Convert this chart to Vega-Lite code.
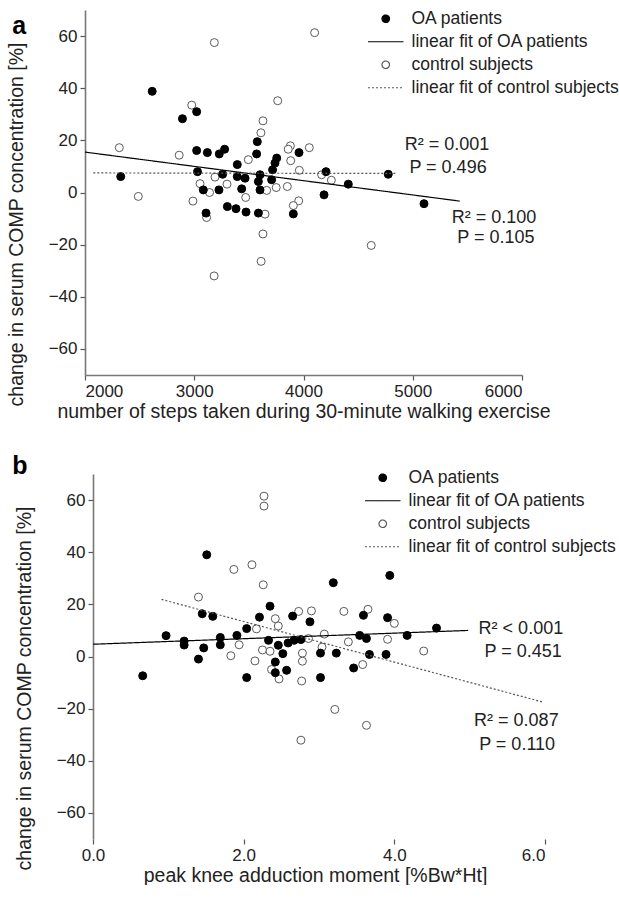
{
  "$schema": "https://vega.github.io/schema/vega-lite/v6.json",
  "background": "white",
  "padding": {"left": 6, "top": 10, "right": 0, "bottom": 0},
  "columns": 1,
  "align": "none",
  "spacing": 33,
  "resolve": {
    "scale": {"fill": "independent", "stroke": "independent", "shape": "independent", "strokeDash": "independent"},
    "legend": {"fill": "independent", "stroke": "independent", "shape": "independent", "strokeDash": "independent"}
  },
  "config": {
    "font": "Liberation Sans",
    "view": {"stroke": null},
    "axis": {
      "grid": false,
      "domainColor": "#777",
      "domainWidth": 1.6,
      "tickColor": "#555",
      "tickSize": 5,
      "tickWidth": 1.2,
      "labelFont": "Liberation Sans",
      "labelFontSize": 17,
      "labelColor": "#222",
      "labelPadding": 3,
      "titleFont": "Liberation Sans",
      "titleFontSize": 19.5,
      "titleFontWeight": "normal",
      "titleColor": "#222"
    },
    "legend": {
      "labelFont": "Liberation Sans",
      "labelFontSize": 17.5,
      "labelColor": "#222",
      "labelLimit": 400,
      "symbolSize": 56,
      "symbolStrokeWidth": 1.2,
      "rowPadding": 4,
      "labelOffset": 17,
      "padding": 0,
      "symbolOpacity": 1
    }
  },
  "concat": [
    {
      "title": {"text": "a", "anchor": "start", "frame": "bounds", "offset": -17, "dy": 32, "dx": 6, "fontSize": 25, "fontWeight": "bold", "baseline": "alphabetic", "color": "#000", "font": "Liberation Sans"},
      "width": 437,
      "height": 365,
      "layer": [
        {
          "data": {"values": [
            {"x": 3184, "y": 57.5, "series": "control subjects"},
            {"x": 4102, "y": 61.3, "series": "control subjects"},
            {"x": 2314, "y": 17.2, "series": "control subjects"},
            {"x": 2977, "y": 33.5, "series": "control subjects"},
            {"x": 3764, "y": 35.2, "series": "control subjects"},
            {"x": 3629, "y": 27.5, "series": "control subjects"},
            {"x": 3610, "y": 22.9, "series": "control subjects"},
            {"x": 2862, "y": 14.3, "series": "control subjects"},
            {"x": 3880, "y": 17.9, "series": "control subjects"},
            {"x": 3860, "y": 16.6, "series": "control subjects"},
            {"x": 4053, "y": 17.2, "series": "control subjects"},
            {"x": 3883, "y": 12.2, "series": "control subjects"},
            {"x": 3962, "y": 8.5, "series": "control subjects"},
            {"x": 3495, "y": 12.6, "series": "control subjects"},
            {"x": 4166, "y": 6.8, "series": "control subjects"},
            {"x": 4255, "y": 4.7, "series": "control subjects"},
            {"x": 3053, "y": 3.4, "series": "control subjects"},
            {"x": 3190, "y": 5.9, "series": "control subjects"},
            {"x": 3300, "y": 3.2, "series": "control subjects"},
            {"x": 3140, "y": 0.0, "series": "control subjects"},
            {"x": 3663, "y": 0.8, "series": "control subjects"},
            {"x": 3750, "y": 1.9, "series": "control subjects"},
            {"x": 3852, "y": 2.3, "series": "control subjects"},
            {"x": 3471, "y": -1.9, "series": "control subjects"},
            {"x": 2488, "y": -1.5, "series": "control subjects"},
            {"x": 2988, "y": -3.3, "series": "control subjects"},
            {"x": 3956, "y": -3.2, "series": "control subjects"},
            {"x": 3907, "y": -5.0, "series": "control subjects"},
            {"x": 3113, "y": -9.6, "series": "control subjects"},
            {"x": 3648, "y": -8.3, "series": "control subjects"},
            {"x": 3629, "y": -15.9, "series": "control subjects"},
            {"x": 3612, "y": -26.4, "series": "control subjects"},
            {"x": 3182, "y": -32.0, "series": "control subjects"},
            {"x": 4620, "y": -20.3, "series": "control subjects"},
            {"x": 2327, "y": 6.1, "series": "OA patients"},
            {"x": 2615, "y": 38.8, "series": "OA patients"},
            {"x": 2892, "y": 28.3, "series": "OA patients"},
            {"x": 3022, "y": 31.0, "series": "OA patients"},
            {"x": 3022, "y": 16.1, "series": "OA patients"},
            {"x": 3120, "y": 15.3, "series": "OA patients"},
            {"x": 3229, "y": 14.8, "series": "OA patients"},
            {"x": 3278, "y": 16.6, "series": "OA patients"},
            {"x": 3030, "y": 8.0, "series": "OA patients"},
            {"x": 3260, "y": 7.0, "series": "OA patients"},
            {"x": 3394, "y": 10.7, "series": "OA patients"},
            {"x": 3577, "y": 19.5, "series": "OA patients"},
            {"x": 3571, "y": 14.8, "series": "OA patients"},
            {"x": 3394, "y": 6.1, "series": "OA patients"},
            {"x": 3465, "y": 5.5, "series": "OA patients"},
            {"x": 3434, "y": 1.4, "series": "OA patients"},
            {"x": 3602, "y": 6.8, "series": "OA patients"},
            {"x": 3587, "y": 4.2, "series": "OA patients"},
            {"x": 3602, "y": 1.0, "series": "OA patients"},
            {"x": 3708, "y": 4.9, "series": "OA patients"},
            {"x": 3717, "y": 8.7, "series": "OA patients"},
            {"x": 3739, "y": 11.3, "series": "OA patients"},
            {"x": 3755, "y": 13.2, "series": "OA patients"},
            {"x": 3959, "y": 15.3, "series": "OA patients"},
            {"x": 3083, "y": 1.0, "series": "OA patients"},
            {"x": 3226, "y": 1.0, "series": "OA patients"},
            {"x": 3303, "y": -5.4, "series": "OA patients"},
            {"x": 3382, "y": -6.2, "series": "OA patients"},
            {"x": 3474, "y": -7.5, "series": "OA patients"},
            {"x": 3587, "y": -7.9, "series": "OA patients"},
            {"x": 3108, "y": -7.9, "series": "OA patients"},
            {"x": 3907, "y": -8.2, "series": "OA patients"},
            {"x": 4206, "y": 8.0, "series": "OA patients"},
            {"x": 4188, "y": -0.9, "series": "OA patients"},
            {"x": 4410, "y": 3.2, "series": "OA patients"},
            {"x": 4776, "y": 7.0, "series": "OA patients"},
            {"x": 5103, "y": -4.3, "series": "OA patients"}
          ]},
          "mark": {"type": "point", "size": 64, "opacity": 1, "strokeWidth": 1},
          "encoding": {
            "x": {"field": "x", "type": "quantitative", "scale": {"domain": [2000, 6000], "nice": false, "zero": false},
                  "axis": {"title": "number of steps taken during 30-minute walking exercise", "values": [2000, 3000, 4000, 5000, 6000], "format": "d", "titlePadding": 3}},
            "y": {"field": "y", "type": "quantitative", "scale": {"domain": [-70, 70], "nice": false, "zero": false},
                  "axis": {"title": "change in serum COMP concentration [%]", "values": [-60, -40, -20, 0, 20, 40, 60], "titleY": 214, "titlePadding": 22}},
            "fill": {"field": "series", "type": "nominal",
                     "scale": {"domain": ["OA patients", "linear fit of OA patients", "control subjects", "linear fit of control subjects"], "range": ["#000000", "transparent", "#ffffff", "transparent"]},
                     "legend": {"title": null, "orient": "none", "legendX": 292, "legendY": 0}},
            "stroke": {"field": "series", "type": "nominal",
                       "scale": {"domain": ["OA patients", "linear fit of OA patients", "control subjects", "linear fit of control subjects"], "range": ["#000000", "#000000", "#5a5a5a", "#555555"]},
                       "legend": {"title": null, "orient": "none", "legendX": 292, "legendY": 0}},
            "shape": {"field": "series", "type": "nominal",
                      "scale": {"domain": ["OA patients", "linear fit of OA patients", "control subjects", "linear fit of control subjects"], "range": ["circle", "M-4.75,0H4.75", "circle", "M-4.75,0H4.75"]},
                      "legend": {"title": null, "orient": "none", "legendX": 292, "legendY": 0}}
          }
        },
        {
          "data": {"values": [
            {"x": 2000, "y": 15.5, "series": "linear fit of OA patients"},
            {"x": 5430, "y": -3.3, "series": "linear fit of OA patients"},
            {"x": 2076, "y": 7.5, "series": "linear fit of control subjects"},
            {"x": 4850, "y": 7.3, "series": "linear fit of control subjects"}
          ]},
          "mark": {"type": "line", "strokeWidth": 1.2},
          "encoding": {
            "x": {"field": "x", "type": "quantitative"},
            "y": {"field": "y", "type": "quantitative"},
            "stroke": {"field": "series", "type": "nominal",
                       "legend": {"title": null, "orient": "none", "legendX": 292, "legendY": 0}},
            "strokeDash": {"field": "series", "type": "nominal",
                           "scale": {"domain": ["OA patients", "linear fit of OA patients", "control subjects", "linear fit of control subjects"], "range": [[1, 0], [1, 0], [1, 0], [2, 2]]},
                           "legend": {"title": null, "orient": "none", "legendX": 292, "legendY": 0}}
          }
        },
        {
          "data": {"values": [
            {"x": 5313, "y": 18.3, "label": "R² = 0.001"},
            {"x": 5323, "y": 9.5, "label": "P = 0.496"},
            {"x": 5744, "y": -9.7, "label": "R² = 0.100"},
            {"x": 5762, "y": -17.4, "label": "P = 0.105"}
          ]},
          "mark": {"type": "text", "fontSize": 18, "font": "Liberation Sans", "color": "#222", "align": "center", "baseline": "middle"},
          "encoding": {
            "x": {"field": "x", "type": "quantitative"},
            "y": {"field": "y", "type": "quantitative"},
            "text": {"field": "label", "type": "nominal"}
          }
        }
      ]
    },
    {
      "title": {"text": "b", "anchor": "start", "frame": "bounds", "offset": -17, "dy": 13, "dx": -2, "fontSize": 25, "fontWeight": "bold", "baseline": "alphabetic", "color": "#000", "font": "Liberation Sans"},
      "width": 460,
      "height": 365,
      "layer": [
        {
          "mark": {"type": "rule", "color": "#777", "strokeWidth": 1.6},
          "encoding": {
            "x": {"datum": 0, "type": "quantitative"},
            "x2": {"datum": 6},
            "y": {"datum": -70, "type": "quantitative"}
          }
        },
        {
          "data": {"values": [
            {"x": 2.27, "y": 61.5, "series": "control subjects"},
            {"x": 2.27, "y": 57.7, "series": "control subjects"},
            {"x": 1.87, "y": 33.4, "series": "control subjects"},
            {"x": 2.11, "y": 35.2, "series": "control subjects"},
            {"x": 2.26, "y": 27.5, "series": "control subjects"},
            {"x": 1.40, "y": 22.8, "series": "control subjects"},
            {"x": 2.73, "y": 17.3, "series": "control subjects"},
            {"x": 2.90, "y": 17.5, "series": "control subjects"},
            {"x": 2.42, "y": 14.5, "series": "control subjects"},
            {"x": 2.46, "y": 11.7, "series": "control subjects"},
            {"x": 2.17, "y": 10.6, "series": "control subjects"},
            {"x": 3.07, "y": 8.6, "series": "control subjects"},
            {"x": 2.86, "y": 6.9, "series": "control subjects"},
            {"x": 1.94, "y": 4.5, "series": "control subjects"},
            {"x": 3.04, "y": 3.6, "series": "control subjects"},
            {"x": 1.83, "y": 0.3, "series": "control subjects"},
            {"x": 2.25, "y": 2.5, "series": "control subjects"},
            {"x": 2.35, "y": 2.0, "series": "control subjects"},
            {"x": 2.78, "y": 1.3, "series": "control subjects"},
            {"x": 2.78, "y": -1.8, "series": "control subjects"},
            {"x": 2.15, "y": -1.7, "series": "control subjects"},
            {"x": 2.37, "y": -5.0, "series": "control subjects"},
            {"x": 2.47, "y": -8.6, "series": "control subjects"},
            {"x": 2.77, "y": -9.4, "series": "control subjects"},
            {"x": 3.21, "y": -20.3, "series": "control subjects"},
            {"x": 3.63, "y": -26.4, "series": "control subjects"},
            {"x": 2.76, "y": -32.1, "series": "control subjects"},
            {"x": 3.33, "y": 17.3, "series": "control subjects"},
            {"x": 3.65, "y": 18.1, "series": "control subjects"},
            {"x": 4.00, "y": 12.7, "series": "control subjects"},
            {"x": 3.39, "y": 5.6, "series": "control subjects"},
            {"x": 3.91, "y": 6.6, "series": "control subjects"},
            {"x": 4.39, "y": 2.1, "series": "control subjects"},
            {"x": 3.58, "y": -3.1, "series": "control subjects"},
            {"x": 0.66, "y": -7.4, "series": "OA patients"},
            {"x": 0.97, "y": 8.0, "series": "OA patients"},
            {"x": 1.21, "y": 5.9, "series": "OA patients"},
            {"x": 1.21, "y": 4.4, "series": "OA patients"},
            {"x": 1.40, "y": -1.0, "series": "OA patients"},
            {"x": 1.47, "y": 3.3, "series": "OA patients"},
            {"x": 1.45, "y": 16.4, "series": "OA patients"},
            {"x": 1.51, "y": 39.0, "series": "OA patients"},
            {"x": 1.59, "y": 15.4, "series": "OA patients"},
            {"x": 1.69, "y": 7.3, "series": "OA patients"},
            {"x": 1.69, "y": 4.5, "series": "OA patients"},
            {"x": 1.91, "y": 8.1, "series": "OA patients"},
            {"x": 2.04, "y": 10.7, "series": "OA patients"},
            {"x": 2.04, "y": -8.1, "series": "OA patients"},
            {"x": 2.21, "y": 15.1, "series": "OA patients"},
            {"x": 2.35, "y": 19.3, "series": "OA patients"},
            {"x": 2.33, "y": 6.2, "series": "OA patients"},
            {"x": 2.46, "y": 4.3, "series": "OA patients"},
            {"x": 2.52, "y": 1.1, "series": "OA patients"},
            {"x": 2.42, "y": -2.1, "series": "OA patients"},
            {"x": 2.42, "y": -6.2, "series": "OA patients"},
            {"x": 2.57, "y": -5.3, "series": "OA patients"},
            {"x": 2.59, "y": 5.2, "series": "OA patients"},
            {"x": 2.67, "y": 6.2, "series": "OA patients"},
            {"x": 2.76, "y": 6.5, "series": "OA patients"},
            {"x": 2.65, "y": 15.5, "series": "OA patients"},
            {"x": 2.88, "y": 13.3, "series": "OA patients"},
            {"x": 3.02, "y": 1.3, "series": "OA patients"},
            {"x": 3.23, "y": 1.3, "series": "OA patients"},
            {"x": 3.02, "y": -8.1, "series": "OA patients"},
            {"x": 3.19, "y": 28.3, "series": "OA patients"},
            {"x": 3.94, "y": 31.1, "series": "OA patients"},
            {"x": 3.59, "y": 15.8, "series": "OA patients"},
            {"x": 3.91, "y": 14.9, "series": "OA patients"},
            {"x": 3.54, "y": 8.1, "series": "OA patients"},
            {"x": 3.63, "y": 6.9, "series": "OA patients"},
            {"x": 4.17, "y": 8.1, "series": "OA patients"},
            {"x": 4.56, "y": 10.9, "series": "OA patients"},
            {"x": 3.67, "y": 0.8, "series": "OA patients"},
            {"x": 3.89, "y": 0.8, "series": "OA patients"},
            {"x": 3.46, "y": -4.4, "series": "OA patients"}
          ]},
          "mark": {"type": "point", "size": 64, "opacity": 1, "strokeWidth": 1},
          "encoding": {
            "x": {"field": "x", "type": "quantitative", "scale": {"domain": [-0.106, 6], "nice": false, "zero": false},
                  "axis": {"title": "peak knee adduction moment [%Bw*Ht]", "values": [0, 2, 4, 6], "format": ".1f", "titlePadding": 3, "domain": false}},
            "y": {"field": "y", "type": "quantitative", "scale": {"domain": [-70, 70], "nice": false, "zero": false},
                  "axis": {"title": "change in serum COMP concentration [%]", "values": [-60, -40, -20, 0, 20, 40, 60], "titleY": 214, "titlePadding": 22, "offset": -8}},
            "fill": {"field": "series", "type": "nominal",
                     "scale": {"domain": ["OA patients", "linear fit of OA patients", "control subjects", "linear fit of control subjects"], "range": ["#000000", "transparent", "#ffffff", "transparent"]},
                     "legend": {"title": null, "orient": "none", "legendX": 289, "legendY": -5}},
            "stroke": {"field": "series", "type": "nominal",
                       "scale": {"domain": ["OA patients", "linear fit of OA patients", "control subjects", "linear fit of control subjects"], "range": ["#000000", "#000000", "#5a5a5a", "#555555"]},
                       "legend": {"title": null, "orient": "none", "legendX": 289, "legendY": -5}},
            "shape": {"field": "series", "type": "nominal",
                      "scale": {"domain": ["OA patients", "linear fit of OA patients", "control subjects", "linear fit of control subjects"], "range": ["circle", "M-4.75,0H4.75", "circle", "M-4.75,0H4.75"]},
                      "legend": {"title": null, "orient": "none", "legendX": 289, "legendY": -5}}
          }
        },
        {
          "data": {"values": [
            {"x": 0, "y": 4.7, "series": "linear fit of OA patients"},
            {"x": 4.98, "y": 10.0, "series": "linear fit of OA patients"},
            {"x": 0.91, "y": 21.9, "series": "linear fit of control subjects"},
            {"x": 5.96, "y": -17.4, "series": "linear fit of control subjects"}
          ]},
          "mark": {"type": "line", "strokeWidth": 1.2},
          "encoding": {
            "x": {"field": "x", "type": "quantitative"},
            "y": {"field": "y", "type": "quantitative"},
            "stroke": {"field": "series", "type": "nominal",
                       "legend": {"title": null, "orient": "none", "legendX": 289, "legendY": -5}},
            "strokeDash": {"field": "series", "type": "nominal",
                           "scale": {"domain": ["OA patients", "linear fit of OA patients", "control subjects", "linear fit of control subjects"], "range": [[1, 0], [1, 0], [1, 0], [2, 2]]},
                           "legend": {"title": null, "orient": "none", "legendX": 289, "legendY": -5}}
          }
        },
        {
          "data": {"values": [
            {"x": 5.68, "y": 10.7, "label": "R² < 0.001"},
            {"x": 5.71, "y": 1.7, "label": "P = 0.451"},
            {"x": 5.62, "y": -24.7, "label": "R² = 0.087"},
            {"x": 5.63, "y": -33.8, "label": "P = 0.110"}
          ]},
          "mark": {"type": "text", "fontSize": 18, "font": "Liberation Sans", "color": "#222", "align": "center", "baseline": "middle"},
          "encoding": {
            "x": {"field": "x", "type": "quantitative"},
            "y": {"field": "y", "type": "quantitative"},
            "text": {"field": "label", "type": "nominal"}
          }
        }
      ]
    }
  ]
}
